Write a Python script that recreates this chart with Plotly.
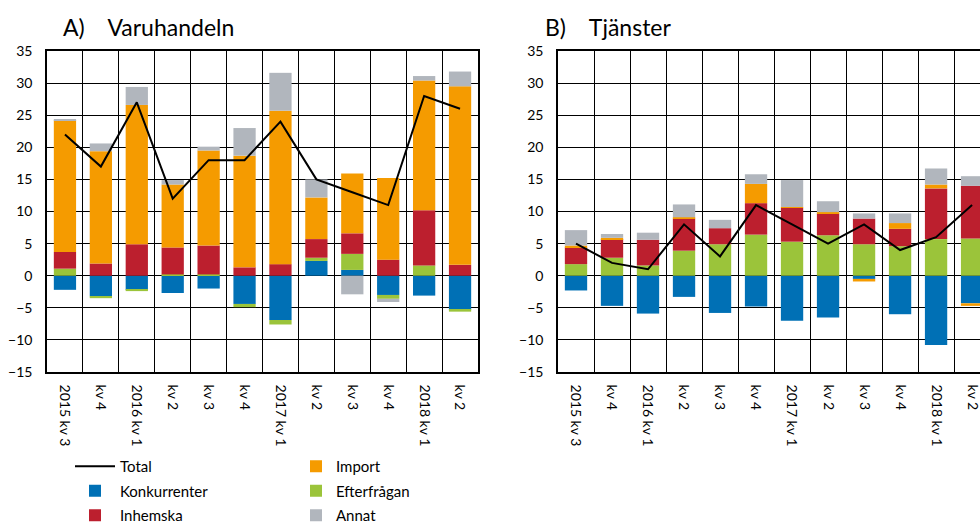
import plotly.graph_objects as go

# ---------------- data ----------------
cat_ids = ["2015K3", "2015K4", "2016K1", "2016K2", "2016K3", "2016K4",
           "2017K1", "2017K2", "2017K3", "2017K4", "2018K1", "2018K2"]
tick_labels = ["2015 kv 3", "kv 4", "2016 kv 1", "kv 2", "kv 3", "kv 4",
               "2017 kv 1", "kv 2", "kv 3", "kv 4", "2018 kv 1", "kv 2"]

# A) Varuhandeln
konk_A = [-2.2, -3.2, -2.2, -2.7, -2.0, -4.4, -6.9, 2.3, 0.9, -3.0, -3.1, -5.3]
eft_A = [1.1, -0.3, -0.2, 0.2, 0.2, -0.5, -0.7, 0.5, 2.5, -0.6, 1.6, -0.3]
inh_A = [2.6, 1.9, 4.9, 4.2, 4.5, 1.3, 1.8, 2.9, 3.2, 2.5, 8.6, 1.7]
imp_A = [20.5, 17.5, 21.7, 9.8, 14.8, 17.4, 23.9, 6.5, 9.3, 12.7, 20.2, 27.8]
ann_A = [0.1, 1.2, 2.8, 0.7, 0.6, 4.3, 5.9, 2.8, -2.9, -0.5, 0.7, 2.3]
tot_A = [22, 17, 27, 12, 18, 18, 24, 15, 13, 11, 28, 26]

# B) Tjänster
konk_B = [-2.3, -4.7, -5.9, -3.3, -5.8, -4.8, -7.0, -6.5, -0.5, -6.0, -10.8, -4.3]
eft_B = [1.8, 2.8, 1.6, 3.9, 4.9, 6.4, 5.3, 6.3, 4.9, 4.6, 5.7, 5.8]
inh_B = [2.6, 2.9, 4.0, 5.0, 2.5, 4.9, 5.3, 3.4, 4.0, 2.7, 7.9, 8.2]
imp_B = [0.3, 0.2, 0.0, 0.2, 0.0, 3.0, 0.1, 0.2, -0.4, 0.9, 0.6, -0.4]
ann_B = [2.4, 0.6, 1.1, 2.0, 1.3, 1.5, 4.2, 1.7, 0.8, 1.5, 2.5, 1.5]
tot_B = [5, 2, 1, 8, 3, 11, 8, 5, 8, 4, 6, 11]

y_ticks = [-15, -10, -5, 0, 5, 10, 15, 20, 25, 30, 35]

# ---------------- style ----------------
C_KONK = "#0070b5"
C_EFT = "#9bc43a"
C_INH = "#bc1f2e"
C_IMP = "#f59b00"
C_ANN = "#b1b6bd"
FONT = "Lato"

W, H = 980, 522

fig = go.Figure()

series = [
    ("Konkurrenter", C_KONK, konk_A, konk_B, "legend", 2),
    ("Efterfrågan", C_EFT, eft_A, eft_B, "legend2", 2),
    ("Inhemska", C_INH, inh_A, inh_B, "legend", 3),
    ("Import", C_IMP, imp_A, imp_B, "legend2", 1),
    ("Annat", C_ANN, ann_A, ann_B, "legend2", 3),
]

for name, col, va, vb, lg, rank in series:
    fig.add_trace(go.Bar(x=cat_ids, y=va, name=name, marker_color=col,
                         marker_line_width=0, xaxis="x", yaxis="y",
                         legend=lg, legendrank=rank, legendgroup=name))
    fig.add_trace(go.Bar(x=cat_ids, y=vb, name=name, marker_color=col,
                         marker_line_width=0, xaxis="x2", yaxis="y2",
                         showlegend=False, legendgroup=name))

fig.add_trace(go.Scatter(x=cat_ids, y=tot_A, name="Total", mode="lines",
                         line=dict(color="black", width=2), xaxis="x", yaxis="y",
                         legend="legend", legendrank=1, legendgroup="Total"))
fig.add_trace(go.Scatter(x=cat_ids, y=tot_B, name="Total", mode="lines",
                         line=dict(color="black", width=2), xaxis="x2", yaxis="y2",
                         showlegend=False, legendgroup="Total"))

y_dom = [1 - 372 / H, 1 - 51 / H]

xcommon = dict(type="category", tickmode="array", tickvals=cat_ids, ticktext=tick_labels,
               tickson="boundaries", showgrid=True, gridcolor="black", gridwidth=1,
               showline=True, linecolor="black", linewidth=1.5, mirror=True,
               tickangle=90, ticks="", ticklabelstandoff=8, automargin=False,
               tickfont=dict(family=FONT, size=14, color="black"))
ycommon = dict(range=[-15, 35], tickmode="array", tickvals=y_ticks,
               showgrid=True, gridcolor="black", gridwidth=1,
               zeroline=True, zerolinecolor="black", zerolinewidth=1,
               showline=True, linecolor="black", linewidth=1.5, mirror=True,
               ticks="", ticklabelstandoff=10, automargin=False,
               tickfont=dict(family=FONT, size=14, color="black"))

fig.update_layout(
    width=W, height=H,
    margin=dict(l=0, r=0, t=0, b=0, autoexpand=False),
    paper_bgcolor="white", plot_bgcolor="white",
    barmode="relative", bargap=0.38,
    font=dict(family=FONT, size=14, color="black"),
    xaxis=dict(domain=[47 / W, 478 / W], range=[-0.5, 11.5], anchor="y", **xcommon),
    yaxis=dict(domain=y_dom, anchor="x", **ycommon),
    xaxis2=dict(domain=[558 / W, 1.0], range=[-0.5, 11.22], anchor="y2", **xcommon),
    yaxis2=dict(domain=y_dom, anchor="x2", **ycommon),
    legend=dict(x=70 / W, y=1 - 450 / H, xanchor="left", yanchor="top",
                orientation="v", traceorder="grouped", tracegroupgap=2, itemwidth=40,
                font=dict(family=FONT, size=15, color="black"),
                bgcolor="rgba(0,0,0,0)"),
    legend2=dict(x=296 / W, y=1 - 450 / H, xanchor="left", yanchor="top",
                 orientation="v", traceorder="grouped", tracegroupgap=2,
                 font=dict(family=FONT, size=15, color="black"),
                 bgcolor="rgba(0,0,0,0)"),
    annotations=[
        dict(text="A)    Varuhandeln", x=61 / W, y=1 - 27 / H, xref="paper", yref="paper",
             xanchor="left", yanchor="middle", showarrow=False,
             font=dict(family=FONT, size=23, color="black")),
        dict(text="B)    Tjänster", x=543 / W, y=1 - 27 / H, xref="paper", yref="paper",
             xanchor="left", yanchor="middle", showarrow=False,
             font=dict(family=FONT, size=23, color="black")),
    ],
)

fig.write_html("out.html", config={"displayModeBar": False},
               post_script="document.body.style.margin='0';")
